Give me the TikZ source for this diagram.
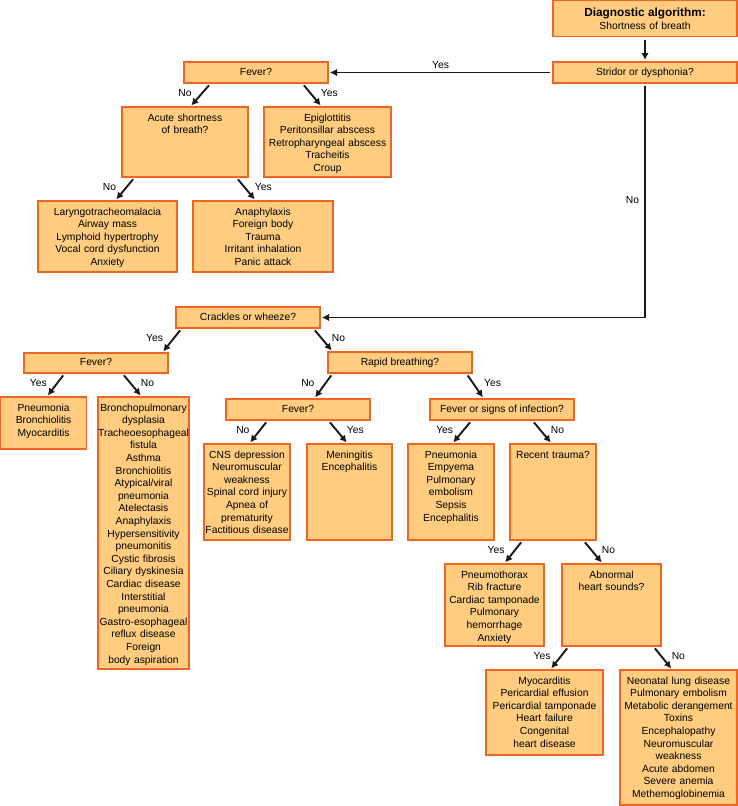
\documentclass[tikz,border=0pt]{standalone}
\usepackage{fontspec}
\setmainfont{Liberation Sans}
\usetikzlibrary{arrows.meta}
\definecolor{boxfill}{RGB}{255,204,128}
\definecolor{boxline}{RGB}{240,101,34}
\definecolor{arrowc}{RGB}{25,25,25}
\begin{document}
\begin{tikzpicture}[
x=1pt,y=-1pt,
every node/.style={font=\fontsize{10.3}{12.6}\selectfont},
box/.style={%
draw=boxline,
fill=boxfill,
line width=1.2pt,
anchor=north west,
outer sep=0pt,
inner xsep=0pt,
inner ysep=4pt,
align=center,
text height=10pt
},
quest/.style={%
draw=boxline,
fill=boxfill,
line width=1.2pt,
anchor=north west,
outer sep=0pt,
inner sep=0pt,
minimum width=144pt,
minimum height=21pt,
text height=7.5pt,
text depth=2pt
},
arr/.style={%
draw=arrowc,
line width=1.9pt,
-{Latex[length=7pt,width=7.5pt]},
shorten <=3pt,
shorten >=2pt
},
ans/.style={inner sep=1pt}
]
\useasboundingbox(0,0)rectangle(738,806);
%% Start
\node[box,text width=184pt,text height=12pt,text depth=16pt]at(553,0.6)(diag){{\fontsize{11.8}{12.6}\selectfont\bfseries Diagnostic algorithm:}\\Shortness of breath};
\node[quest,minimum width=184pt]at(553,62)(strid){Stridor or dysphonia?};
\draw[arr](diag)--(strid);
%% Upper airway
\node[quest]at(184,62)(feverA){Fever?};
\node[box,text width=126pt,text depth=52pt]at(122,107)(acute){Acute shortness\\of breath?};
\node[box,text width=127pt,text depth=52pt]at(264,107)(epi){Epiglottitis\\Peritonsillar abscess\\Retropharyngeal abscess\\Tracheitis\\Croup};
\node[box,text width=139pt,text depth=53pt]at(38,201)(lary){Laryngotracheomalacia\\Airway mass\\Lymphoid hypertrophy\\Vocal cord dysfunction\\Anxiety};
\node[box,text width=140pt,text depth=53pt]at(193,201)(anaph){Anaphylaxis\\Foreign body\\Trauma\\Irritant inhalation\\Panic attack};
\draw[arr](strid)--node[ans,above=2pt]{Yes}(feverA);
\draw[arr]([xshift=-45pt]feverA.south)--node[ans,pos=.4,left=9pt]{No}([xshift=5pt]acute.north);
\draw[arr]([xshift=46pt]feverA.south)--node[ans,pos=.4,right=9pt]{Yes}([xshift=-5.5pt]epi.north);
\draw[arr]([xshift=-50pt]acute.south)--node[ans,pos=.4,left=9pt]{No}([xshift=7.5pt]lary.north);
\draw[arr]([xshift=51pt]acute.south)--node[ans,pos=.4,right=9pt]{Yes}([xshift=-7pt]anaph.north);
%% Lower airway
\node[quest]at(176,307)(crack){Crackles or wheeze?};
\draw[arr](strid)|-node[ans,pos=.25,left=4pt]{No}(crack);
\node[quest,minimum height=20pt]at(24,353)(feverB){Fever?};
\node[box,text width=86pt,text depth=34pt]at(0.6,397)(pneuA){Pneumonia\\Bronchiolitis\\Myocarditis};
\node[box,text width=91pt,text depth=254pt]at(98,397)(bron){Bronchopulmonary\\dysplasia\\Tracheoesophageal\\fistula\\Asthma\\Bronchiolitis\\Atypical/viral\\pneumonia\\Atelectasis\\Anaphylaxis\\Hypersensitivity\\pneumonitis\\Cystic fibrosis\\Ciliary dyskinesia\\Cardiac disease\\Interstitial\\pneumonia\\Gastro-esophageal\\reflux disease\\Foreign\\body aspiration};
\draw[arr]([xshift=-66pt]crack.south)--node[ans,pos=.4,left=9pt]{Yes}([xshift=66pt]feverB.north);
\draw[arr]([xshift=-31pt]feverB.south)--node[ans,pos=.4,left=9pt]{Yes}([xshift=3pt]pneuA.north);
\draw[arr]([xshift=26pt]feverB.south)--node[ans,pos=.4,right=9pt]{No}([xshift=-1.5pt]bron.north);
%% Rapid breathing
\node[quest]at(328,352)(rapid){Rapid breathing?};
\node[quest]at(226,399)(feverC){Fever?};
\node[quest]at(430,399)(infect){Fever or signs of infection?};
\draw[arr]([xshift=65pt]crack.south)--node[ans,pos=.4,right=9pt]{No}([xshift=-67pt]rapid.north);
\draw[arr]([xshift=-67pt]rapid.south)--node[ans,pos=.4,left=9pt]{No}([xshift=16pt]feverC.north);
\draw[arr]([xshift=66pt]rapid.south)--node[ans,pos=.4,right=9pt]{Yes}([xshift=-18pt]infect.north);
\node[box,text width=86pt,text depth=78pt]at(204,444)(cns){CNS depression\\Neuromuscular\\weakness\\Spinal cord injury\\Apnea of\\prematurity\\Factitious disease};
\node[box,text width=85pt,text depth=78pt]at(307,444)(menin){Meningitis\\Encephalitis};
\node[box,text width=86pt,text depth=78pt]at(408,444)(pneuB){Pneumonia\\Empyema\\Pulmonary\\embolism\\Sepsis\\Encephalitis};
\node[box,text width=86pt,text depth=78pt]at(510,444)(trauma){Recent trauma?};
\draw[arr]([xshift=-30pt]feverC.south)--node[ans,pos=.4,left=9pt]{No}([xshift=2pt]cns.north);
\draw[arr]([xshift=30pt]feverC.south)--node[ans,pos=.4,right=9pt]{Yes}([xshift=-1.5pt]menin.north);
\draw[arr]([xshift=-30pt]infect.south)--node[ans,pos=.4,left=9pt]{Yes}([xshift=1pt]pneuB.north);
\draw[arr]([xshift=30pt]infect.south)--node[ans,pos=.4,right=9pt]{No}([xshift=-1pt]trauma.north);
%% Trauma and heart
\node[box,text width=99pt,text depth=64pt]at(445,564)(ptx){Pneumothorax\\Rib fracture\\Cardiac tamponade\\Pulmonary\\hemorrhage\\Anxiety};
\node[box,text width=99pt,text depth=64pt]at(562,564)(heart){Abnormal\\heart sounds?};
\draw[arr]([xshift=-30pt]trauma.south)--node[ans,pos=.4,left=9pt]{Yes}([xshift=9.5pt]ptx.north);
\draw[arr]([xshift=30pt]trauma.south)--node[ans,pos=.4,right=9pt]{No}([xshift=-8.5pt]heart.north);
\node[box,text width=117pt,text depth=67pt]at(486,670)(myo){Myocarditis\\Pericardial effusion\\Pericardial tamponade\\Heart failure\\Congenital\\heart disease};
\node[box,text width=117pt,text depth=117pt]at(620,670)(neo){Neonatal lung disease\\Pulmonary embolism\\Metabolic derangement\\Toxins\\Encephalopathy\\Neuromuscular\\weakness\\Acute abdomen\\Severe anemia\\Methemoglobinemia};
\draw[arr]([xshift=-42.5pt]heart.south)--node[ans,pos=.4,left=9pt]{Yes}([xshift=5.5pt]myo.north);
\draw[arr]([xshift=41.5pt]heart.south)--node[ans,pos=.4,right=9pt]{No}([xshift=-6pt]neo.north);
\end{tikzpicture}
\end{document}
